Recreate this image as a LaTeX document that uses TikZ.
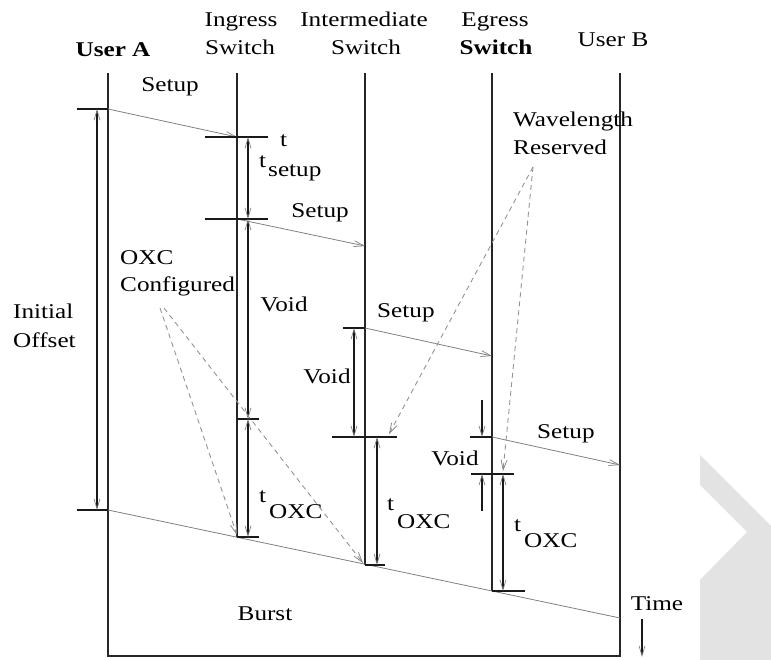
\documentclass[tikz,border=0pt]{standalone}
\usepackage{fontspec}
\setmainfont{Liberation Serif}[FakeStretch=1.2]
\usetikzlibrary{arrows.meta}
\tikzset{
  lane/.style={line width=1.6pt, black!85},
  tick/.style={line width=1.4pt, black!90},
  barb/.tip={Straight Barb[length=10pt,width=6pt,line width=0.7pt,color=gray]},
  span/.style={line width=1.4pt, black!90, barb-barb},
  half/.style={line width=1.4pt, black!90, -barb},
  msg/.style={line width=0.8pt, gray, -barb},
  burst/.style={line width=0.8pt, gray},
  note/.style={line width=0.9pt, gray!85, dash pattern=on 5pt off 4pt, -barb},
  lbl/.style={font=\fontsize{21}{24}\selectfont, inner sep=0pt, anchor=base},
  lblw/.style={lbl, anchor=base west},
}
\begin{document}
\begin{tikzpicture}[x=1pt,y=-1pt]
\useasboundingbox (0,0) rectangle (771,660);
% watermark chevron
\fill[gray!22] (700,455) -- (771,526) -- (771,660) -- (700,660) -- (700,580) -- (747,532) -- (700,485) -- cycle;

% lanes
\coordinate (A0) at (108,73);  \coordinate (A1) at (108,656);
\coordinate (B0) at (620,73);  \coordinate (B1) at (620,656);
\coordinate (I0) at (237,73);  \coordinate (I1) at (237,537);
\coordinate (M0) at (365,73);  \coordinate (M1) at (365,565);
\coordinate (E0) at (492,73);  \coordinate (E1) at (492,591);
\coordinate (Ab) at (108,510); \coordinate (Bb) at (620,618);
\draw[lane] (A0) -- (A1) -- (B1) -- (B0);
\draw[lane] (I0) -- (I1);
\draw[lane] (M0) -- (M1);
\draw[lane] (E0) -- (E1);

% burst edge
\draw[burst] (Ab) -- (Bb);

% setup messages
\coordinate (As) at (108,109); \coordinate (Is) at (237,137);
\coordinate (Is2) at (237,219); \coordinate (Ms) at (365,246);
\coordinate (Ms2) at (365,328); \coordinate (Es) at (492,356);
\coordinate (Es2) at (492,437); \coordinate (Bs) at (620,465);
\draw[msg] (As) -- (Is);
\draw[msg] (Is2) -- (Ms);
\draw[msg] (Ms2) -- (Es);
\draw[msg] (Es2) -- (Bs);

% ticks
\draw[tick] (77,109) -- (As);
\draw[tick] (77,510) -- (Ab);
\draw[tick] (205,137) -- (268,137);
\draw[tick] (205,219) -- (268,219);
\draw[tick] (237,419) -- (259,419);
\draw[tick] (I1) -- (259,537);
\draw[tick] (343,328) -- (Ms2);
\draw[tick] (332,437) -- (397,437);
\draw[tick] (M1) -- (385,565);
\draw[tick] (470,437) -- (Es2);
\draw[tick] (471,474) -- (514,474);
\draw[tick] (E1) -- (525,591);

% spans
\coordinate (io1) at (97,109);  \coordinate (io2) at (97,510);
\coordinate (ts1) at (248,137); \coordinate (ts2) at (248,219);
\coordinate (iv2) at (248,419); \coordinate (ix2) at (248,537);
\coordinate (mv1) at (354,328); \coordinate (mv2) at (354,437);
\coordinate (mo1) at (377,437); \coordinate (mo2) at (377,565);
\coordinate (eo1) at (503,474); \coordinate (eo2) at (503,591);
\coordinate (ev0) at (482,400); \coordinate (ev1) at (482,437);
\coordinate (ev2) at (482,511); \coordinate (ev3) at (482,474);
\draw[span] (io1) -- (io2);
\draw[span] (ts1) -- (ts2);
\draw[span] (ts2) -- (iv2);
\draw[span] (iv2) -- (ix2);
\draw[span] (mv1) -- (mv2);
\draw[span] (mo1) -- (mo2);
\draw[span] (eo1) -- (eo2);
\draw[half] (ev0) -- (ev1);
\draw[half] (ev2) -- (ev3);

% dashed pointers
\coordinate (oxa) at (160,308); \coordinate (oxb) at (164,308);
\coordinate (oxa2) at (237,535); \coordinate (oxb2) at (363,563);
\coordinate (wr) at (533,167);
\coordinate (wr1) at (389,434); \coordinate (wr2) at (503,471);
\draw[note] (oxa) -- (oxa2);
\draw[note] (oxb) -- (oxb2);
\draw[note] (wr) -- (wr1);
\draw[note] (wr) -- (wr2);

% time arrow
\coordinate (T0) at (642,619); \coordinate (T1) at (642,657);
\draw[half, line width=1.2pt] (T0) -- (T1);

% labels
\node[lbl, font=\fontsize{21}{24}\selectfont\bfseries] (uA) at (113,57) {User A};
\node[lbl] (ing1) at (241,27) {Ingress};
\node[lbl] (ing2) at (240,55) {Switch};
\node[lbl] (int1) at (364,27) {Intermediate};
\node[lbl] (int2) at (366,55) {Switch};
\node[lbl] (eg1) at (495,27) {Egress};
\node[lbl, font=\fontsize{21}{24}\selectfont\bfseries] (eg2) at (496,55) {Switch};
\node[lbl] (uB) at (613,47) {User B};

\node[lbl] (s1) at (170,92) {Setup};
\node[lblw] (tt) at (280,147) {t};
\node[lblw] (ts) at (259,168) {t};
\node[lblw] (tss) at (268,177) {setup};
\node[lbl] (s2) at (320,218) {Setup};
\node[lblw] (s3) at (377,318) {Setup};
\node[lblw] (s4) at (537,438) {Setup};

\node[lblw] (ox1) at (120,265) {OXC};
\node[lblw] (ox2) at (120,291) {Configured};
\node[lblw] (in1) at (13,319) {Initial};
\node[lblw] (in2) at (13,347) {Offset};
\node[lbl] (v1) at (284,312) {Void};
\node[lbl] (v2) at (327,383) {Void};
\node[lbl] (v3) at (455,465) {Void};
\node[lblw] (wl1) at (513,127) {Wavelength};
\node[lblw] (wl2) at (513,155) {Reserved};

\node[lblw] (to1) at (259,502) {t};
\node[lblw] (to1s) at (269,518) {OXC};
\node[lblw] (to2) at (387,510) {t};
\node[lblw] (to2s) at (397,528) {OXC};
\node[lblw] (to3) at (514,531) {t};
\node[lblw] (to3s) at (524,547) {OXC};

\node[lbl] (bu) at (265,620) {Burst};
\node[lbl] (ti) at (657,610) {Time};
\end{tikzpicture}
\end{document}
